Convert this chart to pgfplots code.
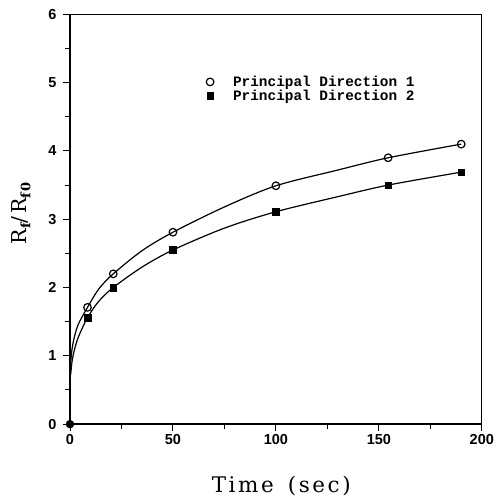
\documentclass[border=0pt]{standalone}
\usepackage{fontspec}
\usepackage{pgfplots}
\pgfplotsset{compat=1.18}
\newfontfamily\ticksf{Liberation Sans}
\newfontfamily\legtt{Liberation Mono}
\newfontfamily\labfont[LetterSpace=12]{DejaVu Serif}

\begin{document}
\begin{tikzpicture}
\begin{axis}[
    scale only axis,
    width=412pt, height=410pt,
    xmin=0, xmax=200, ymin=0, ymax=6,
    xtick={0,50,100,150,200}, ytick={0,1,2,3,4,5,6},
    minor x tick num=1, minor y tick num=1,
    tick pos=left, tick align=outside,
    major tick length=7pt, minor tick length=5pt,
    every tick/.style={black, line width=1pt},
    axis line style={line width=1.3pt},
    /pgf/number format/assume math mode=true,
    tick label style={font=\ticksf\bfseries\fontsize{14.5}{14.5}\selectfont},
    yticklabel style={xshift=-3pt},
    xlabel={Time\hspace{14pt}(sec)},
    ylabel={R{\fontsize{13}{13}\selectfont\raisebox{-4pt}{\bfseries f}}/R{\fontsize{13}{13}\selectfont\raisebox{-4pt}{\bfseries f0}}},
    xlabel style={font=\labfont\fontsize{21.5}{21.5}\selectfont, at={(axis description cs:0.513,-0.150)}, anchor=center},
    ylabel style={font=\labfont\fontsize{20.5}{20.5}\selectfont, at={(axis description cs:-0.119,0.515)}, anchor=center},
    clip=false,
    legend style={draw=none, fill=none, at={(axis cs:66,5.13)}, anchor=north west,
        font=\legtt\bfseries\fontsize{14.4}{14.4}\selectfont, row sep=-2pt,
        inner sep=0pt},
    legend cell align=left,
    legend image code/.code={\path[draw=none, fill=none] (0pt,0pt) -- (25pt,0pt); \draw[#1] plot coordinates {(4pt,0pt)};},
]
% measured points
\addplot[only marks, mark=o, mark size=3.8pt, line width=1.2pt] coordinates {
    (8.5,1.71) (21,2.20) (50,2.81) (100,3.49) (154.5,3.90) (190,4.10)
};
\addlegendentry{Principal Direction 1}
\addplot[only marks, mark=square*, mark size=3.3pt] coordinates {
    (8.5,1.56) (21,2.00) (50,2.55) (100,3.11) (154.5,3.50) (190,3.69)
};
\addlegendentry{Principal Direction 2}

% fitted curves
\addplot[smooth, line width=1.2pt, forget plot] coordinates {
    (0.3,0.90) (1,1.10) (2,1.26) (4,1.46) (8.5,1.71) (14,1.98) (21,2.20)
    (35,2.54) (50,2.81) (75,3.18) (100,3.49) (130,3.72) (154.5,3.90) (190,4.10)
};
\addplot[smooth, line width=1.2pt, forget plot] coordinates {
    (0.3,0.72) (1,0.92) (2,1.07) (4,1.27) (8.5,1.56) (14,1.80) (21,2.00)
    (35,2.30) (50,2.55) (75,2.87) (100,3.11) (130,3.33) (154.5,3.50) (190,3.69)
};
\addplot[only marks, mark=*, mark size=4pt, forget plot] coordinates {(0,0)};

\path (axis description cs:-0.170,-0.190) rectangle (axis description cs:1.029,1.035);
\end{axis}
\end{tikzpicture}
\end{document}
